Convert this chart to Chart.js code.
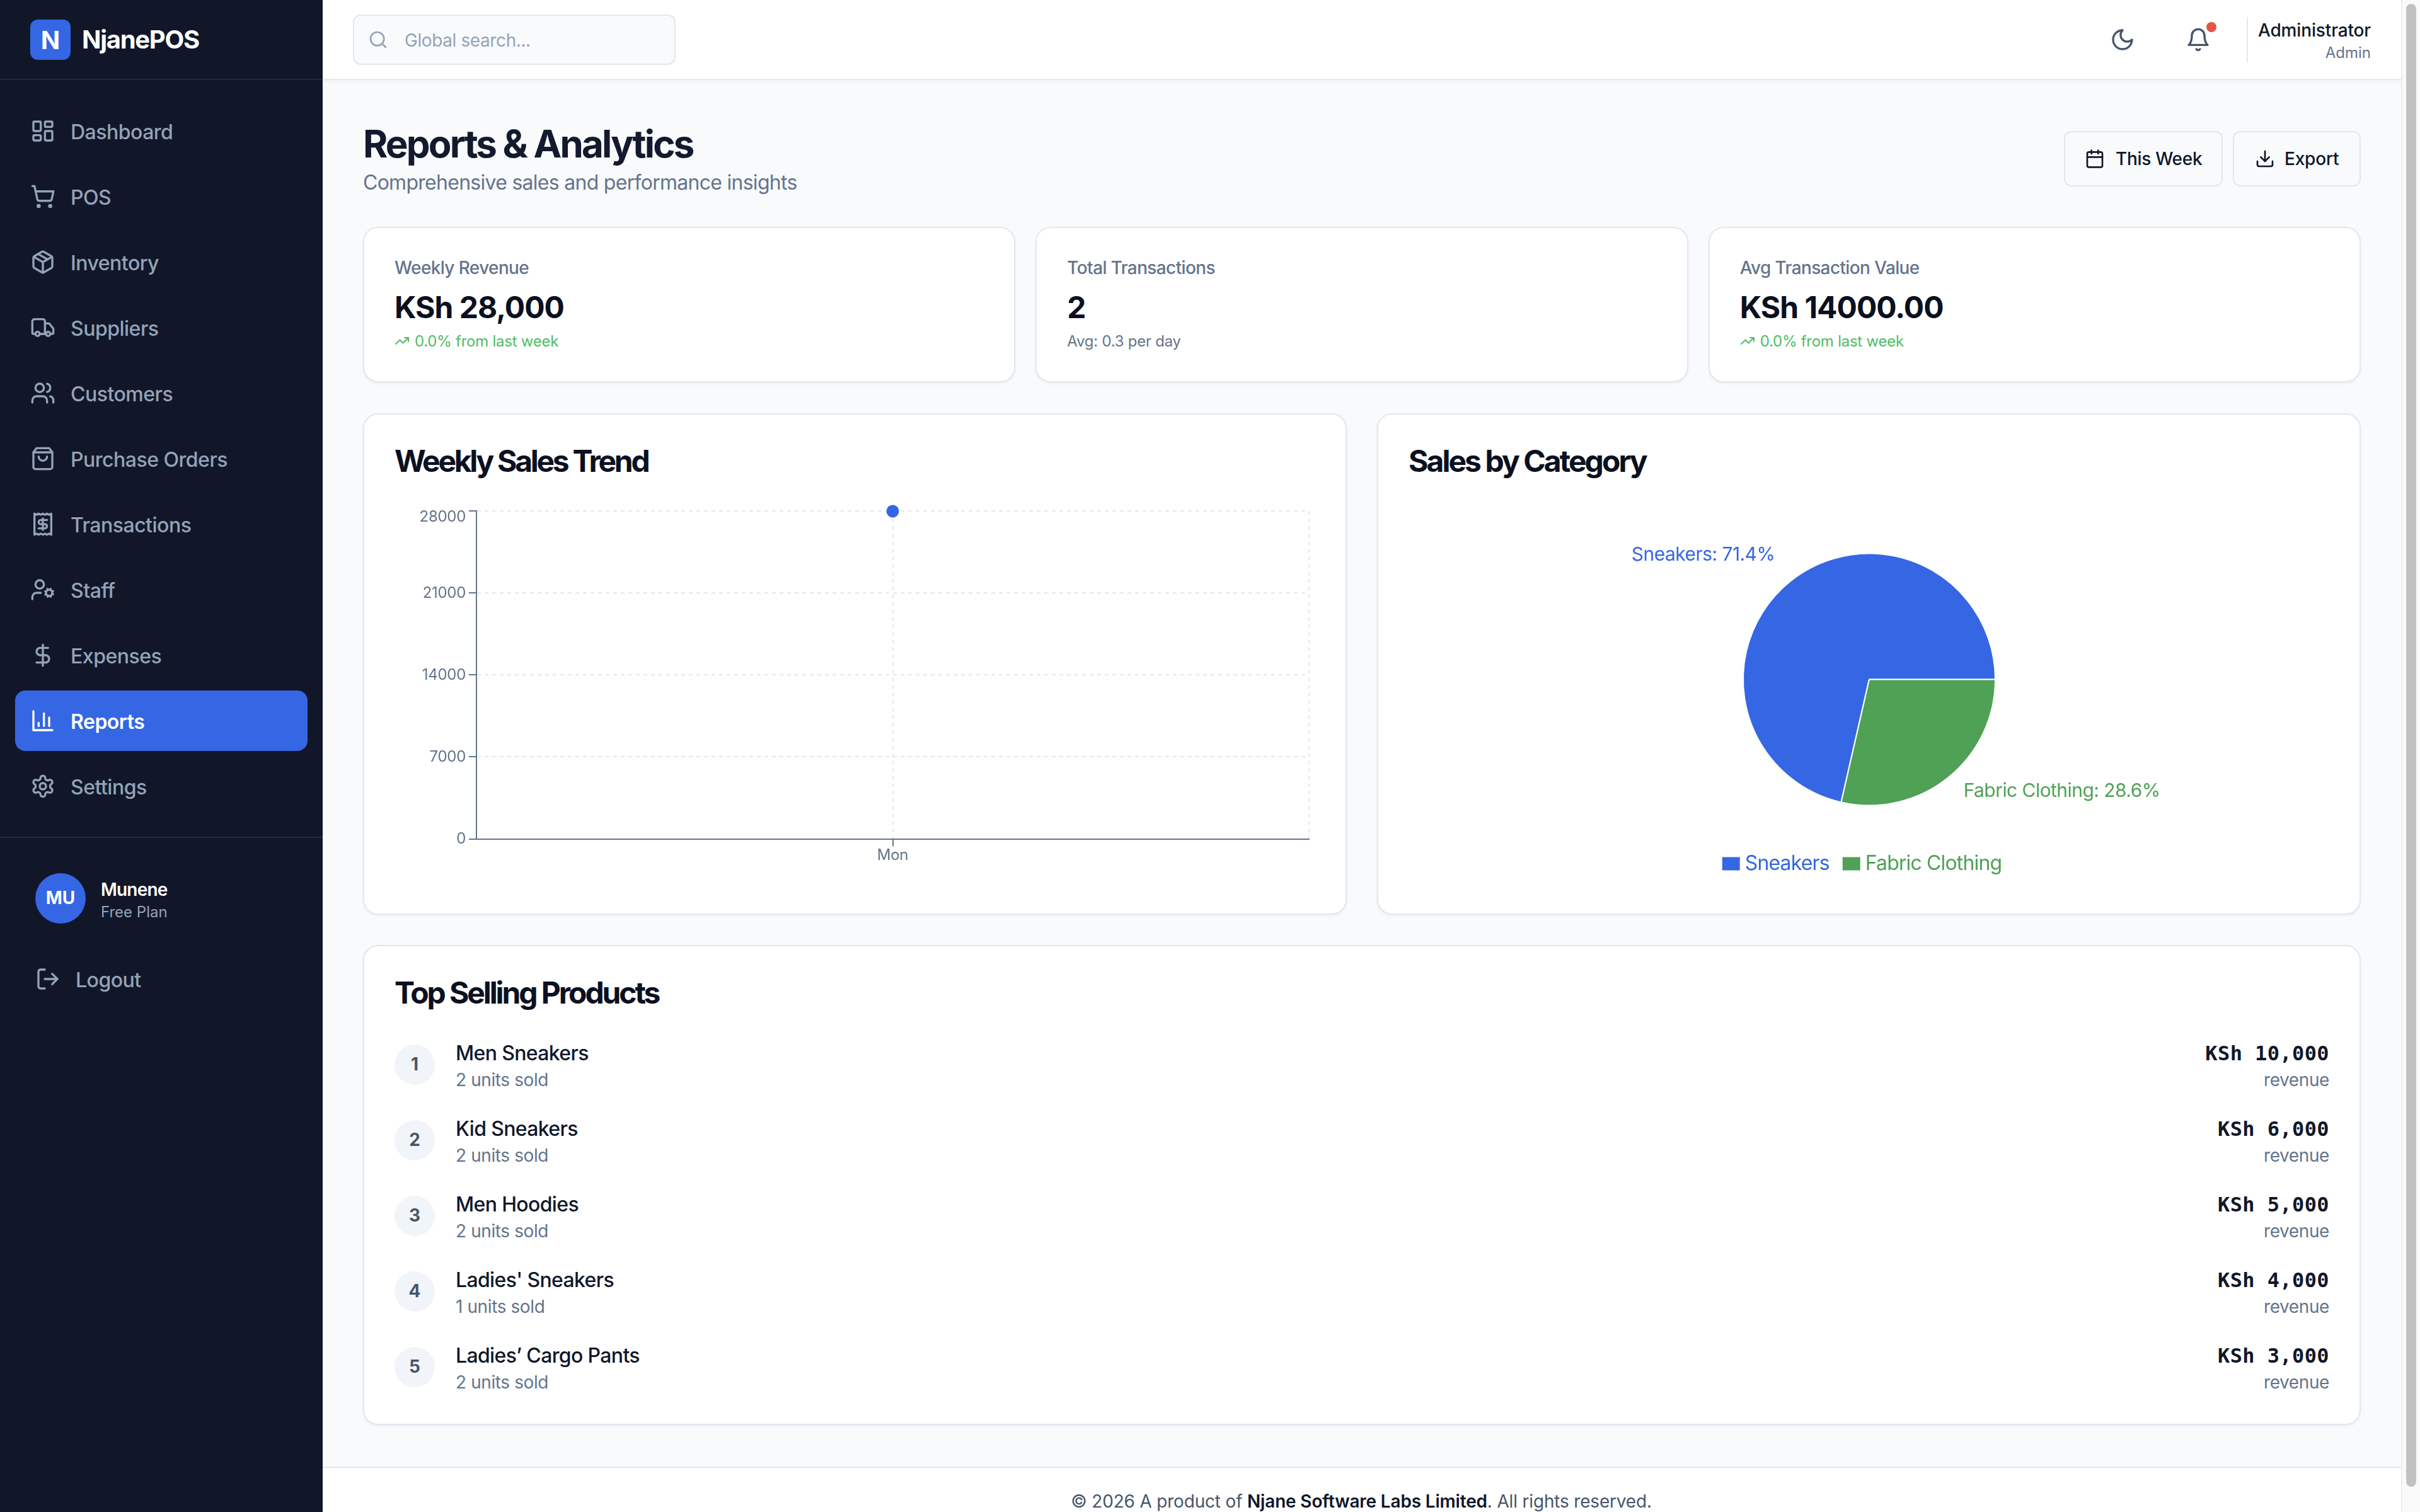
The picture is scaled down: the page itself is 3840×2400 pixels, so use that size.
<!DOCTYPE html>
<html><head><meta charset="utf-8">
<script src="https://cdn.jsdelivr.net/npm/chart.js@4"></script>
<style>
*{box-sizing:border-box;margin:0;padding:0}
html,body{width:3840px;height:2400px;overflow:hidden;background:#f8fafc;font-family:Inter,"Noto Sans",sans-serif}
.b{position:absolute}
.t{position:absolute;white-space:pre;line-height:1.2;transform:translateY(-50%)}
.r{transform:translate(-100%,-50%)}
.c{transform:translate(-50%,-50%)}
canvas{position:absolute}
svg{position:absolute;fill:none;stroke-linecap:round;stroke-linejoin:round;stroke-width:2}
</style></head><body>
<div id="app"></div>
<canvas id="trend" width="1461" height="608" style="left:626px;top:792px;width:1461px;height:608px"></canvas>
<canvas id="cats" width="1462" height="597" style="left:2235px;top:800px;width:1462px;height:597px"></canvas>
<script>
// ---- data ----
const trendDays = ['Mon'];
const trendSales = [28000];
const yTicks = [0, 7000, 14000, 21000, 28000];
const categoryNames = ['Sneakers', 'Fabric Clothing'];
const categorySales = [20000, 8000];
const navItems = ['Dashboard','POS','Inventory','Suppliers','Customers','Purchase Orders','Transactions','Staff','Expenses','Reports','Settings'];
const productNames = ['Men Sneakers','Kid Sneakers','Men Hoodies',"Ladies' Sneakers","Ladies\u2019 Cargo Pants"];
const productUnits = [2,2,2,1,2];
const productRevenue = ['KSh 10,000','KSh 6,000','KSh 5,000','KSh 4,000','KSh 3,000'];
const statLabels = ['Weekly Revenue','Total Transactions','Avg Transaction Value'];
const statValues = ['KSh 28,000','2','KSh 14000.00'];
const statNotes = ['0.0% from last week','Avg: 0.3 per day','0.0% from last week'];

// ---- colours ----
const BLUE='#3566e4', GREEN='#4ea155', SLATE='#64748b', GRID='#e2e8f0', INK='#0b1020', NAVY='#111729';

// ---- icons (24 unit paths) ----
const I={
Dashboard:'<rect x="3" y="3" width="7" height="9" rx="1"/><rect x="14" y="3" width="7" height="5" rx="1"/><rect x="14" y="12" width="7" height="9" rx="1"/><rect x="3" y="16" width="7" height="5" rx="1"/>',
POS:'<circle cx="8" cy="21" r="1"/><circle cx="19" cy="21" r="1"/><path d="M2.05 2.05h2l2.66 12.42a2 2 0 0 0 2 1.58h9.78a2 2 0 0 0 1.95-1.57l1.65-7.43H5.12"/>',
Inventory:'<path d="M7.5 4.27l9 5.15"/><path d="M21 8a2 2 0 0 0-1-1.73l-7-4a2 2 0 0 0-2 0l-7 4A2 2 0 0 0 3 8v8a2 2 0 0 0 1 1.73l7 4a2 2 0 0 0 2 0l7-4A2 2 0 0 0 21 16Z"/><path d="m3.3 7 8.7 5 8.7-5"/><path d="M12 22V12"/>',
Suppliers:'<path d="M14 18V6a2 2 0 0 0-2-2H4a2 2 0 0 0-2 2v11a1 1 0 0 0 1 1h2"/><path d="M15 18H9"/><path d="M19 18h2a1 1 0 0 0 1-1v-3.65a1 1 0 0 0-.22-.624l-3.48-4.35A1 1 0 0 0 17.52 8H14"/><circle cx="17" cy="18" r="2"/><circle cx="7" cy="18" r="2"/>',
Customers:'<path d="M16 21v-2a4 4 0 0 0-4-4H6a4 4 0 0 0-4 4v2"/><circle cx="9" cy="7" r="4"/><path d="M22 21v-2a4 4 0 0 0-3-3.87"/><path d="M16 3.13a4 4 0 0 1 0 7.75"/>',
'Purchase Orders':'<path d="M6 2 3 6v14a2 2 0 0 0 2 2h14a2 2 0 0 0 2-2V6l-3-4Z"/><path d="M3 6h18"/><path d="M16 10a4 4 0 0 1-8 0"/>',
Transactions:'<path d="M4 2v20l2-1 2 1 2-1 2 1 2-1 2 1 2-1 2 1V2l-2 1-2-1-2 1-2-1-2 1-2-1-2 1Z"/><path d="M16 8h-6a2 2 0 1 0 0 4h4a2 2 0 1 1 0 4H8"/><path d="M12 17.5v-11"/>',
Staff:'<circle cx="18" cy="15" r="3"/><circle cx="9" cy="7" r="4"/><path d="M10 15H6a4 4 0 0 0-4 4v2"/><path d="m21.7 16.4-.9-.3"/><path d="m15.2 13.9-.9-.3"/><path d="m16.6 18.7.3-.9"/><path d="m19.1 12.2.3-.9"/><path d="m19.6 18.7-.4-1"/><path d="m16.8 12.3-.4-1"/><path d="m14.3 16.6 1-.4"/><path d="m20.7 13.8 1-.4"/>',
Expenses:'<path d="M12 2v20"/><path d="M17 5H9.5a3.5 3.5 0 0 0 0 7h5a3.5 3.5 0 0 1 0 7H6"/>',
Reports:'<path d="M3 3v18h18"/><path d="M18 17V9"/><path d="M13 17V5"/><path d="M8 17v-3"/>',
Settings:'<path d="M12.22 2h-.44a2 2 0 0 0-2 2v.18a2 2 0 0 1-1 1.73l-.43.25a2 2 0 0 1-2 0l-.15-.08a2 2 0 0 0-2.73.73l-.22.38a2 2 0 0 0 .73 2.73l.15.1a2 2 0 0 1 1 1.72v.51a2 2 0 0 1-1 1.74l-.15.09a2 2 0 0 0-.73 2.73l.22.38a2 2 0 0 0 2.73.73l.15-.08a2 2 0 0 1 2 0l.43.25a2 2 0 0 1 1 1.73V20a2 2 0 0 0 2 2h.44a2 2 0 0 0 2-2v-.18a2 2 0 0 1 1-1.73l.43-.25a2 2 0 0 1 2 0l.15.08a2 2 0 0 0 2.73-.73l.22-.39a2 2 0 0 0-.73-2.73l-.15-.08a2 2 0 0 1-1-1.74v-.5a2 2 0 0 1 1-1.74l.15-.09a2 2 0 0 0 .73-2.73l-.22-.38a2 2 0 0 0-2.73-.73l-.15.08a2 2 0 0 1-2 0l-.43-.25a2 2 0 0 1-1-1.73V4a2 2 0 0 0-2-2z"/><circle cx="12" cy="12" r="3"/>',
logout:'<path d="M9 21H5a2 2 0 0 1-2-2V5a2 2 0 0 1 2-2h4"/><path d="M16 17l5-5-5-5"/><path d="M21 12H9"/>',
search:'<circle cx="11" cy="11" r="8"/><path d="m21 21-4.3-4.3"/>',
moon:'<path d="M12 3a6 6 0 0 0 9 9 9 9 0 1 1-9-9Z"/>',
bell:'<path d="M6 8a6 6 0 0 1 12 0c0 7 3 9 3 9H3s3-2 3-9"/><path d="M10.3 21a1.94 1.94 0 0 0 3.4 0"/>',
cal:'<path d="M8 2v4"/><path d="M16 2v4"/><rect x="3" y="4" width="18" height="18" rx="2"/><path d="M3 10h18"/>',
dl:'<path d="M21 15v4a2 2 0 0 1-2 2H5a2 2 0 0 1-2-2v-4"/><path d="M7 10l5 5 5-5"/><path d="M12 15V3"/>',
trend:'<path d="M22 7l-8.5 8.5-5-5L2 17"/><path d="M16 7h6v6"/>'
};

// ---- helpers ----
let html='';
const box=(x,y,w,h,st)=>{html+=`<div class="b" style="left:${x}px;top:${y}px;width:${w}px;height:${h}px;${st}"></div>`};
const lsFor=s=>s>=32?-0.6:s>=28?-0.5:-0.25;
const txt=(x,cy,s,size,weight,color,extra='',cls='')=>{html+=`<div class="t ${cls}" style="left:${x}px;top:${cy+1.5}px;font-size:${size}px;font-weight:${weight};color:${color};letter-spacing:${lsFor(size)}px;${extra}">${s}</div>`};
const icon=(k,x,cy,size,color)=>{html+=`<svg style="left:${x}px;top:${cy-size/2}px;stroke:${color}" width="${size}" height="${size}" viewBox="0 0 24 24">${I[k]}</svg>`};
const card='background:#fff;border:2px solid #e2e8f0;border-radius:24px;box-shadow:0 2px 4px rgba(0,0,0,.05);';
const ls=v=>`letter-spacing:${v}px;`;

// ---- sidebar ----
box(0,0,512,2400,`background:${NAVY}`);
box(0,125,512,2,'background:#1e293b');
box(48,31,64,64,`background:${BLUE};border-radius:12px`);
txt(80,62.5,'N',40,700,'#fff',ls(0),'c');
txt(130,61.5,'NjanePOS',40,700,'#fff',ls(-1.3));
box(24,1096,464,96,`background:${BLUE};border-radius:16px`);
navItems.forEach((n,i)=>{
  const cy=208+104*i, on=n==='Reports', col=on?'#fff':'#94a3b8';
  icon(n,48,cy,40,col);
  txt(112,cy,n,32,on?600:500,col,ls(-0.5));
});
box(0,1328,512,2,'background:#1e293b');
box(56,1386,80,80,`background:${BLUE};border-radius:50%`);
txt(96,1424.5,'MU',28,700,'#fff',ls(0),'c');
txt(160,1411,'Munene',28,600,'#fff',ls(-0.8));
txt(160,1446,'Free Plan',24,400,'#94a3b8',ls(0));
icon('logout',56,1554,40,'#94a3b8');
txt(120,1554,'Logout',32,500,'#94a3b8',ls(-0.5));

// ---- top bar ----
box(512,0,3298,127,'background:#fff;border-bottom:2px solid #e2e8f0;box-shadow:0 2px 4px rgba(0,0,0,.04)');
box(560,23,512,80,'background:#f8fafc;border:2px solid #e2e8f0;border-radius:12px');
icon('search',584,63,32,'#94a3b8');
txt(642,63,'Global search...',28,400,'#94a3b8',ls(-0.4));
icon('moon',3348,63,40,'#475569');
icon('bell',3468,63,40,'#475569');
box(3501,35,16,16,'background:#e25549;border-radius:50%');
box(3565,27,2,72,'background:#e2e8f0');
txt(3762,47,'Administrator',28,500,'#0f172a',ls(-0.15),'r');
txt(3762,82,'Admin',24,400,SLATE,ls(0),'r');

// ---- page head ----
txt(576,226,'Reports &amp; Analytics',60,700,'#131a2e',ls(-2.8));
txt(576,288,'Comprehensive sales and performance insights',32,400,SLATE,ls(-0.72));
box(3275,208,252,88,'border:2px solid #e2e8f0;border-radius:12px');
icon('cal',3308,252,32,'#0f172a');
txt(3357,251,'This Week',28,500,'#0f172a',ls(-0.3));
box(3543,208,203,88,'border:2px solid #e2e8f0;border-radius:12px');
icon('dl',3578,252,32,'#0f172a');
txt(3625,251,'Export',28,500,'#0f172a',ls(-0.2));

// ---- stat cards ----
const statX=[576,1643.33,2710.67];
statLabels.forEach((l,i)=>{
  const x=statX[i];
  box(x,360,1035.33,247,card);
  txt(x+50,424,l,28,500,SLATE,ls(-0.62));
  txt(x+50,486,statValues[i],48,700,INK,ls(-1));
  if(statNotes[i].includes('%')){
    icon('trend',x+50,541,24,'#4ebd62');
    txt(x+82,540,statNotes[i],24,400,'#4ebd62');
  } else txt(x+50,540,statNotes[i],24,400,SLATE);
});

// ---- chart cards ----
box(576,656,1561,796,card);
txt(626,730,'Weekly Sales Trend',48,700,INK,ls(-3.3));
box(2185,656,1561,796,card);
txt(2235,730,'Sales by Category',48,700,INK,ls(-2.95));

// ---- products ----
box(576,1500,3170,762,card);
txt(626,1574,'Top Selling Products',48,700,INK,ls(-3.1));
productNames.forEach((n,i)=>{
  const cy=1689.5+120*i;
  box(626,cy-32,64,64,'background:#f1f5f9;border-radius:50%');
  txt(658,cy-1,String(i+1),28,700,'#475569',ls(0),'c');
  txt(723,cy-19.5,n,32,500,'#0f172a',ls(-0.65));
  txt(723,cy+23.5,`${productUnits[i]} units sold`,28,400,SLATE,ls(-0.4));
  txt(3696,cy-19.5,productRevenue[i],32,700,'#111729','font-family:\'DejaVu Sans Mono\',monospace;letter-spacing:.4px','r');
  txt(3696,cy+24,'revenue',28,400,SLATE,ls(-0.4),'r');
});

// ---- footer + scrollbar ----
box(512,2328,3298,72,'background:#fff;border-top:2px solid #e2e8f0');
txt(2160,2382,'\u00a9 2026 A product of <b style="font-weight:600;color:#0f172a">Njane Software Labs Limited</b>. All rights reserved.',28,400,'#475569',ls(-0.18),'c');
box(3810,0,30,2400,'background:#fafafa;border-left:2px solid #ececec');
box(3818,6,16,2354,'background:#c1c1c1;border-radius:8px');
document.getElementById('app').innerHTML=html;

// ---- charts ----
Chart.defaults.font.family='Inter';
const tickFont={family:'Inter',size:24,weight:'400'};

const shiftTopTick={id:'shiftTopTick',beforeLayout(chart){chart.ctx.letterSpacing='-0.3px'},beforeDraw(chart){
  const s=chart.scales.y, items=s.getLabelItems();
  const top=items.find(it=>it.label===String(s.max));
  if(top&&!top._moved){top.options.translation[1]+=9;top._moved=true;}
}};

new Chart(document.getElementById('trend'),{
  type:'line',
  data:{labels:trendDays,datasets:[{data:trendSales,borderColor:BLUE,backgroundColor:BLUE,borderWidth:4,pointRadius:10,pointBorderWidth:0,clip:false,xAxisID:'x',yAxisID:'y'}]},
  options:{
    responsive:false,devicePixelRatio:1,animation:false,
    layout:{padding:{top:4,right:10,left:0,bottom:0}},
    plugins:{legend:{display:false},tooltip:{enabled:false}},
    scales:{
      x:{type:'category',offset:true,position:'bottom',
        grid:{offset:false,color:GRID,lineWidth:2,tickColor:SLATE,tickLength:12,tickWidth:2},
        border:{display:true,color:SLATE,width:2,dash:[6,6]},
        ticks:{color:SLATE,font:tickFont,padding:0,maxRotation:0},
        afterFit:s=>{s.height=68.5}},
      edge:{type:'linear',position:'bottom',min:0,max:1,
        grid:{color:GRID,lineWidth:2,drawTicks:false},
        border:{display:false,dash:[6,6]},
        ticks:{display:false},
        afterBuildTicks:s=>{s.ticks=[{value:1}]},
        afterFit:s=>{s.height=0}},
      y:{min:yTicks[0],max:yTicks[yTicks.length-1],
        grid:{color:GRID,lineWidth:2,tickColor:SLATE,tickLength:12,tickWidth:2},
        border:{display:true,color:SLATE,width:2,dash:[6,6]},
        ticks:{color:SLATE,font:tickFont,padding:5,stepSize:yTicks[1]-yTicks[0],callback:v=>String(v)},
        afterFit:s=>{s.width=130}}
    }
  },
  plugins:[shiftTopTick]
});

const sliceColors=[BLUE,GREEN];
const total=categorySales.reduce((a,b)=>a+b,0);
const sliceLabels={id:'sliceLabels',afterDatasetsDraw(chart){
  const ctx=chart.ctx, arcs=chart.getDatasetMeta(0).data;
  ctx.save();
  ctx.font='400 30px Inter';
  ctx.letterSpacing='-0.55px';
  ctx.textBaseline='middle';
  arcs.forEach((a,i)=>{
    const mid=(a.startAngle+a.endAngle)/2, R=a.outerRadius+40;
    const x=a.x+Math.cos(mid)*R, y=a.y+Math.sin(mid)*R-10;
    ctx.textAlign=Math.cos(mid)<0?'right':'left';
    ctx.fillStyle=sliceColors[i];
    ctx.fillText(`${categoryNames[i]}: ${(categorySales[i]/total*100).toFixed(1)}%`,x,y);
  });
  ctx.restore();
}};
const legendShift={id:'legendShift',beforeLayout(chart){chart.ctx.letterSpacing='-0.85px'},afterLayout(chart){chart.legend.left-=7.5;chart.legend.right-=7.5;}};

new Chart(document.getElementById('cats'),{
  type:'pie',
  data:{labels:categoryNames,datasets:[{data:categorySales,backgroundColor:sliceColors,borderColor:'#fff',borderWidth:2}]},
  options:{
    responsive:false,devicePixelRatio:1,animation:false,
    rotation:90+360*categorySales[1]/total,
    radius:200,
    layout:{padding:{top:31}},
    plugins:{
      tooltip:{enabled:false},
      legend:{position:'bottom',
        labels:{boxWidth:12,boxHeight:5,padding:29,font:{family:'Inter',size:32},
          generateLabels:()=>categoryNames.map((n,i)=>({text:n,fillStyle:sliceColors[i],strokeStyle:sliceColors[i],lineWidth:16,fontColor:sliceColors[i],index:i,hidden:false}))}}
    }
  },
  plugins:[sliceLabels,legendShift]
});
</script>
</body></html>
